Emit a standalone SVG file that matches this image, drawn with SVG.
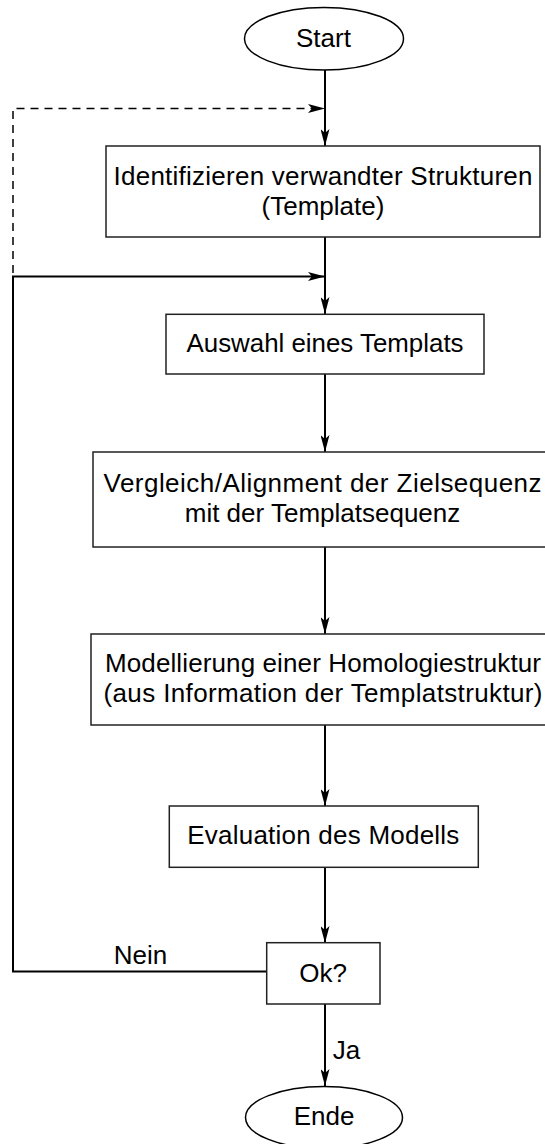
<svg xmlns="http://www.w3.org/2000/svg" width="545" height="1144" viewBox="0 0 545 1144">
  <style>
    .box { fill: #fff; stroke: #222; stroke-width: 1.5; }
    .term { fill: #fff; stroke: #000; stroke-width: 1.5; }
    .lbl { font-family: "Liberation Sans", Arial, sans-serif; font-size: 26px; fill: #000; text-anchor: middle; }
    .edge { fill: none; stroke: #000; stroke-width: 2; }
    .dash { fill: none; stroke: #000; stroke-width: 1.5; stroke-dasharray: 8 6; }
  </style>
  <defs>
    <marker id="arrow" viewBox="0 0 17 9" refX="17" refY="4.5" markerWidth="17" markerHeight="9" markerUnits="userSpaceOnUse" orient="auto">
      <path d="M0,0 L17,4.5 L0,9 L4,4.5 Z" fill="#000"/>
    </marker>
  </defs>

  <g id="connectors">
    <line class="edge" x1="325" y1="70" x2="325" y2="146" marker-end="url(#arrow)"/>
    <polyline class="dash" points="13,273 13,108.5 325,108.5" marker-end="url(#arrow)"/>
    <line class="edge" x1="325" y1="237" x2="325" y2="314" marker-end="url(#arrow)"/>
    <polyline class="edge" points="267,971.5 13,971.5 13,276.5 325,276.5" marker-end="url(#arrow)"/>
    <line class="edge" x1="325" y1="374" x2="325" y2="452" marker-end="url(#arrow)"/>
    <line class="edge" x1="325" y1="547" x2="325" y2="634" marker-end="url(#arrow)"/>
    <line class="edge" x1="325" y1="725" x2="325" y2="806" marker-end="url(#arrow)"/>
    <line class="edge" x1="325" y1="867" x2="325" y2="943" marker-end="url(#arrow)"/>
    <line class="edge" x1="325" y1="1004" x2="325" y2="1086" marker-end="url(#arrow)"/>
    <text class="lbl" x="140.5" y="963.5">Nein</text>
    <text class="lbl" x="346.5" y="1058.5">Ja</text>
  </g>

  <g id="start">
    <ellipse class="term" cx="324" cy="38.7" rx="79.5" ry="31.3"/>
    <text class="lbl" x="323.5" y="46.7">Start</text>
  </g>

  <g id="identify">
    <rect class="box" x="106" y="146" width="434" height="91"/>
    <text class="lbl" x="323" y="185" textLength="419" lengthAdjust="spacing">Identifizieren verwandter Strukturen</text>
    <text class="lbl" x="323" y="215">(Template)</text>
  </g>

  <g id="select">
    <rect class="box" x="166" y="314.3" width="318" height="59.7"/>
    <text class="lbl" x="325" y="351.7" textLength="277" lengthAdjust="spacingAndGlyphs">Auswahl eines Templats</text>
  </g>

  <g id="align">
    <rect class="box" x="93" y="452" width="460" height="95"/>
    <text class="lbl" x="322.5" y="492" textLength="438" lengthAdjust="spacing">Vergleich/Alignment der Zielsequenz</text>
    <text class="lbl" x="322.5" y="522">mit der Templatsequenz</text>
  </g>

  <g id="model">
    <rect class="box" x="91" y="634" width="464" height="91"/>
    <text class="lbl" x="323" y="672" textLength="436" lengthAdjust="spacing">Modellierung einer Homologiestruktur</text>
    <text class="lbl" x="323" y="702" textLength="439" lengthAdjust="spacing">(aus Information der Templatstruktur)</text>
  </g>

  <g id="evaluate">
    <rect class="box" x="169.3" y="806" width="309" height="61.3"/>
    <text class="lbl" x="323.3" y="844" textLength="272" lengthAdjust="spacing">Evaluation des Modells</text>
  </g>

  <g id="check">
    <rect class="box" x="266.7" y="942.7" width="113.3" height="61.3"/>
    <text class="lbl" x="323" y="981.7">Ok?</text>
  </g>

  <g id="end">
    <ellipse class="term" cx="324" cy="1117.5" rx="78.5" ry="31"/>
    <text class="lbl" x="324" y="1125">Ende</text>
  </g>
</svg>
